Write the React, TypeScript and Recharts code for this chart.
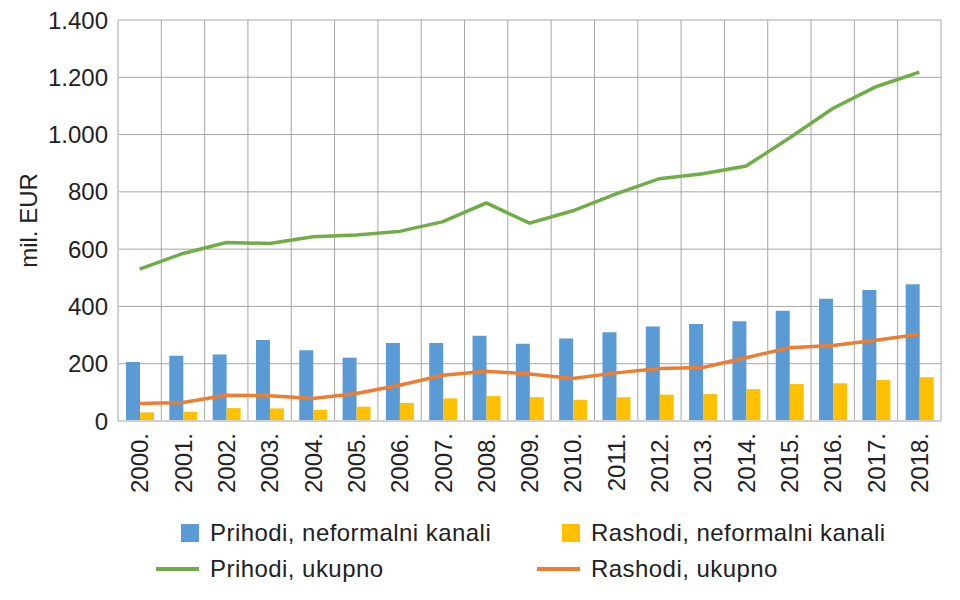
import React from 'react';
import {
  ComposedChart,
  Bar,
  Line,
  XAxis,
  YAxis,
  CartesianGrid,
  Legend,
} from 'recharts';

const years = [
  '2000.', '2001.', '2002.', '2003.', '2004.', '2005.', '2006.', '2007.', '2008.', '2009.',
  '2010.', '2011.', '2012.', '2013.', '2014.', '2015.', '2016.', '2017.', '2018.',
];

const prihodiNeformalni = [206, 228, 232, 283, 247, 221, 272, 272, 298, 270, 288, 310, 330, 339, 348, 385, 427, 457, 477];
const rashodiNeformalni = [30, 32, 45, 44, 39, 50, 63, 79, 87, 83, 74, 83, 92, 94, 111, 129, 132, 143, 153];
const prihodiUkupno = [530, 585, 623, 620, 643, 649, 662, 696, 761, 691, 734, 793, 846, 863, 890, 988, 1091, 1167, 1218];
const rashodiUkupno = [61, 65, 90, 88, 79, 96, 125, 160, 174, 164, 148, 168, 183, 187, 221, 256, 264, 282, 303];

const yTicks = [0, 200, 400, 600, 800, 1000, 1200, 1400];

// legend reads row by row: bars on top, lines below
const legendOrder = [
  'Prihodi, neformalni kanali',
  'Rashodi, neformalni kanali',
  'Prihodi, ukupno',
  'Rashodi, ukupno',
];

const FONT = '"Liberation Sans", Arial, Helvetica, sans-serif';
const TEXT = '#222222';

const rows = years.map((year, i) => ({
  year,
  prihodiNeformalni: prihodiNeformalni[i],
  rashodiNeformalni: rashodiNeformalni[i],
  prihodiUkupno: prihodiUkupno[i],
  rashodiUkupno: rashodiUkupno[i],
}));

const formatThousands = (v: number) =>
  String(v).replace(/\B(?=(\d{3})+(?!\d))/g, '.');

function YearTick({ x, y, payload }: any) {
  return (
    <g transform={`translate(${x},${y + 12})`}>
      <text
        transform="rotate(-90)"
        textAnchor="end"
        dy="0.36em"
        fill={TEXT}
        fontSize={24}
        fontFamily={FONT}
      >
        {payload.value}
      </text>
    </g>
  );
}

function UnitLabel({ viewBox }: any) {
  const cx = 28;
  const cy = viewBox.y + viewBox.height / 2;
  return (
    <text
      x={cx}
      y={cy}
      transform={`rotate(-90, ${cx}, ${cy})`}
      textAnchor="middle"
      dominantBaseline="central"
      fill={TEXT}
      fontSize={24}
      fontFamily={FONT}
    >
      mil. EUR
    </text>
  );
}

function LegendBox({ payload }: any) {
  const items = [...(payload || [])].sort(
    (a: any, b: any) => legendOrder.indexOf(a.value) - legendOrder.indexOf(b.value)
  );
  return (
    <div
      style={{
        display: 'grid',
        gridTemplateColumns: '381px 380px',
        gridAutoRows: '36px',
        alignContent: 'start',
        paddingLeft: 156,
        paddingTop: 5,
        height: 90,
        boxSizing: 'border-box',
        fontFamily: FONT,
        fontSize: 24,
        letterSpacing: 0.45,
        color: TEXT,
      }}
    >
      {items.map((it: any) => (
        <div
          key={it.value}
          style={{ display: 'flex', alignItems: 'center', height: 36, whiteSpace: 'nowrap' }}
        >
          <div
            style={{
              width: 43,
              height: 18,
              display: 'flex',
              alignItems: 'center',
              justifyContent: 'flex-end',
              marginRight: 11,
            }}
          >
            {it.type === 'line' ? (
              <div style={{ width: 43, height: 4, background: it.color }} />
            ) : (
              <div style={{ width: 18, height: 18, background: it.color }} />
            )}
          </div>
          <span>{it.value}</span>
        </div>
      ))}
    </div>
  );
}

export default function App() {
  const n = years.length;
  return (
    <div style={{ position: 'absolute', left: 0, top: 0, width: 960, height: 600, background: '#fff' }}>
      <ComposedChart
        width={960}
        height={600}
        data={rows}
        margin={{ top: 20, right: 19, bottom: 0, left: 0 }}
        barGap={0}
      >
        <CartesianGrid
          stroke="#a6a6a6"
          strokeWidth={1}
          verticalCoordinatesGenerator={({ offset }: any) =>
            years.map((_, i) => offset.left + ((i + 1) * offset.width) / n)
          }
        />
        <XAxis
          dataKey="year"
          height={89}
          interval={0}
          tickLine={false}
          tickSize={0}
          tickMargin={0}
          axisLine={{ stroke: '#d0d0d0', strokeWidth: 2 }}
          tick={<YearTick />}
        />
        <YAxis
          width={118}
          domain={[0, 1400]}
          ticks={yTicks}
          interval={0}
          tickLine={false}
          tickSize={0}
          tickMargin={10}
          axisLine={{ stroke: '#d0d0d0', strokeWidth: 2 }}
          tickFormatter={formatThousands}
          tick={{ fill: TEXT, fontSize: 24, fontFamily: FONT }}
          label={<UnitLabel />}
        />
        <Legend
          verticalAlign="bottom"
          content={<LegendBox />}
          wrapperStyle={{ left: 0, width: 960, bottom: 0 }}
        />
        <Bar
          dataKey="prihodiNeformalni"
          name="Prihodi, neformalni kanali"
          fill="#5b9bd5"
          barSize={14}
          legendType="square"
          isAnimationActive={false}
        />
        <Bar
          dataKey="rashodiNeformalni"
          name="Rashodi, neformalni kanali"
          fill="#ffc000"
          barSize={14}
          legendType="square"
          isAnimationActive={false}
        />
        <Line
          dataKey="prihodiUkupno"
          name="Prihodi, ukupno"
          type="linear"
          stroke="#70ad47"
          strokeWidth={3.5}
          dot={false}
          legendType="line"
          isAnimationActive={false}
        />
        <Line
          dataKey="rashodiUkupno"
          name="Rashodi, ukupno"
          type="linear"
          stroke="#ed7d31"
          strokeWidth={3.5}
          dot={false}
          legendType="line"
          isAnimationActive={false}
        />
      </ComposedChart>
    </div>
  );
}
